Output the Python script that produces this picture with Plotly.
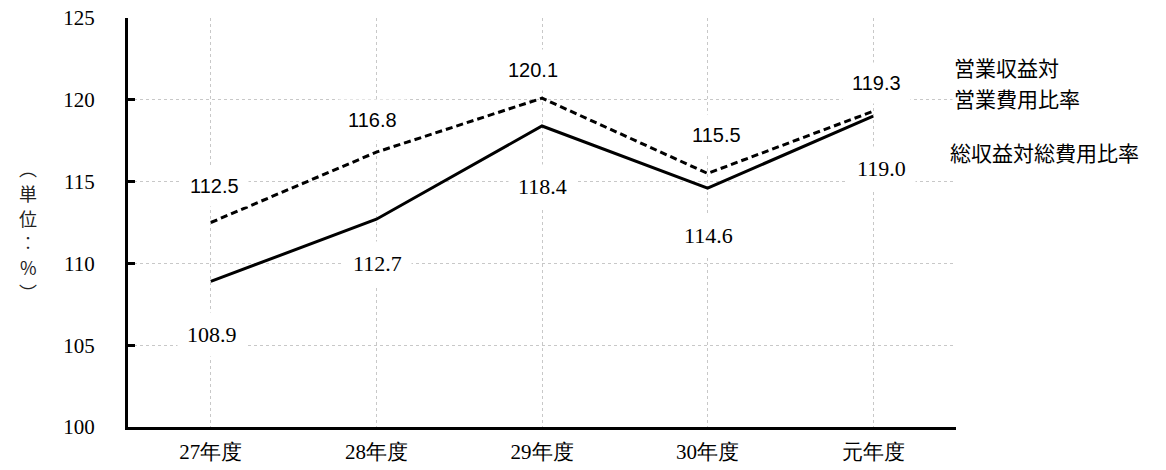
import plotly.graph_objects as go

categories = ["27年度", "28年度", "29年度", "30年度", "元年度"]
operating_ratio = [112.5, 116.8, 120.1, 115.5, 119.3]   # 営業収益対営業費用比率
total_ratio = [108.9, 112.7, 118.4, 114.6, 119.0]       # 総収益対総費用比率
y_ticks = [100, 105, 110, 115, 120, 125]
unit_chars = ["︵", "単", "位", "︰", "%", "︶"]

# label offsets (pixels) for data labels
op_xshift = [4, -4, -9, 9, 3]
op_yshift = [37, 32, 28, 38, 28]
tot_xshift = [1, 1, 0, 1, 8]
tot_yshift = [-53, -44, -61, -47, -52]

SERIF = "serif"
SANS = "Liberation Sans"
CJK = "Noto Sans CJK JP"

fig = go.Figure()
fig.add_trace(go.Scatter(
    x=categories, y=total_ratio, mode="lines",
    line=dict(color="black", width=3), name="総収益対総費用比率",
    hoverinfo="skip"))
fig.add_trace(go.Scatter(
    x=categories, y=operating_ratio, mode="lines",
    line=dict(color="black", width=3, dash="7px,4px"), name="営業収益対営業費用比率",
    hoverinfo="skip"))

annotations = []
for c, v, dx, dy in zip(categories, operating_ratio, op_xshift, op_yshift):
    annotations.append(dict(
        x=c, y=v, xref="x", yref="y", text=f"{v:.1f}", showarrow=False,
        xshift=dx, yshift=dy, bgcolor="white", borderpad=9,
        font=dict(family=SANS, size=20, color="black")))
for c, v, dx, dy in zip(categories, total_ratio, tot_xshift, tot_yshift):
    annotations.append(dict(
        x=c, y=v, xref="x", yref="y", text=f"{v:.1f}", showarrow=False,
        xshift=dx, yshift=dy, bgcolor="white", borderpad=9,
        font=dict(family=SERIF, size=22, color="black")))

# series name labels
annotations.append(dict(x=1, y=122.0, xref="paper", yref="y", text="営業収益対",
                        showarrow=False, xanchor="left", xshift=-4,
                        font=dict(family=CJK, size=21, color="black")))
annotations.append(dict(x=1, y=120.1, xref="paper", yref="y", text="営業費用比率",
                        showarrow=False, xanchor="left", xshift=-4, bgcolor="white",
                        font=dict(family=CJK, size=21, color="black")))
annotations.append(dict(x=1, y=116.8, xref="paper", yref="y", text="総収益対総費用比率",
                        showarrow=False, xanchor="left", xshift=-8,
                        font=dict(family=CJK, size=21, color="black")))

# vertical axis title, one character per line
for i, ch in enumerate(unit_chars):
    annotations.append(dict(x=0, y=0.633 - i * 0.0605, xref="paper", yref="paper",
                            text=ch, showarrow=False, xanchor="center", yanchor="middle",
                            xshift=-100,
                            font=dict(family=CJK, size=18, color="#222222")))

fig.update_layout(
    width=1166, height=470,
    margin=dict(l=128, r=210, t=18, b=43, autoexpand=False),
    paper_bgcolor="white", plot_bgcolor="white",
    showlegend=False,
    annotations=annotations,
    xaxis=dict(
        type="category", range=[-0.5, 4.5], automargin=False,
        showgrid=True, gridcolor="#c8c8c8", gridwidth=1, griddash="dot",
        showline=True, linecolor="black", linewidth=3,
        ticks="", ticklabelstandoff=4,
        tickfont=dict(family=SERIF, size=21, color="black"),
        zeroline=False),
    yaxis=dict(
        range=[100, 125], tickvals=y_ticks, automargin=False,
        showgrid=True, gridcolor="#c8c8c8", gridwidth=1, griddash="dot",
        showline=True, linecolor="black", linewidth=3,
        ticks="inside", ticklen=7, tickwidth=3, tickcolor="black",
        ticklabelstandoff=26,
        tickfont=dict(family=SERIF, size=21, color="black"),
        zeroline=False),
)

fig.write_html("out.html")
